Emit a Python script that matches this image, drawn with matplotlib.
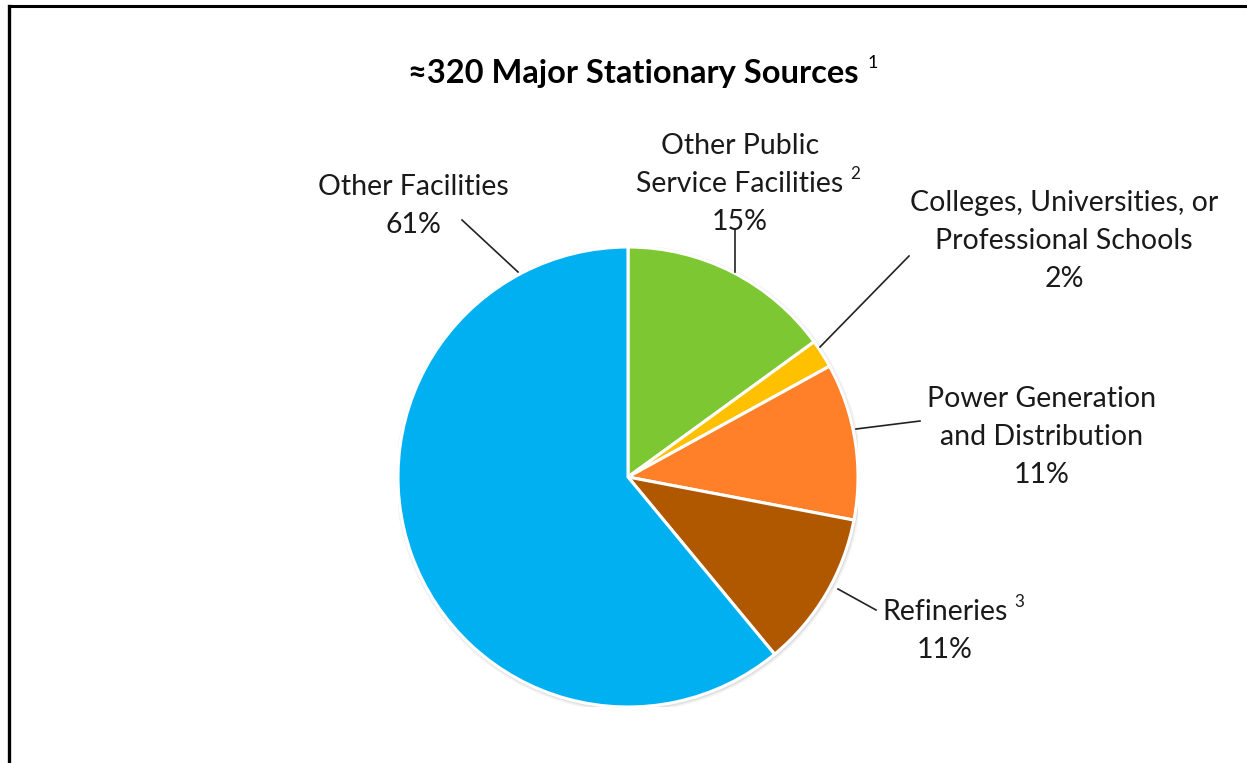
import matplotlib
matplotlib.use("Agg")
import matplotlib.pyplot as plt
from matplotlib.lines import Line2D

# slice data, clockwise from 12 o'clock
categories = ["Other Public\nService Facilities", "Colleges, Universities, or\nProfessional Schools",
              "Power Generation\nand Distribution", "Refineries", "Other Facilities"]
shares = [15, 2, 11, 11, 61]
footnotes = ["2", "", "", "3", ""]
colors = ["#7DC832", "#FFC000", "#FF8029", "#B05800", "#00B0F0"]
title = "≈320 Major Stationary Sources"

W, H = 1247, 763
CX, CY, R = 628, 477, 230  # pie centre / radius in pixels

fig = plt.figure(figsize=(W / 100, H / 100), dpi=100)
fig.patch.set_facecolor("white")

ax = fig.add_axes([(CX - R) / W, (H - CY - R) / H, 2 * R / W, 2 * R / H])
ax.axis("off")

# faint shadow behind the pie
for k, a in [(1.014, 0.05), (1.007, 0.07)]:
    ax.add_patch(plt.Circle((0.004, -0.006), k, color="black", alpha=a, lw=0, zorder=0))

ax.pie(shares, colors=colors, startangle=90, counterclock=False, radius=1,
       wedgeprops=dict(edgecolor="white", linewidth=2.2), normalize=True)
ax.set_xlim(-1, 1)
ax.set_ylim(-1, 1)


def d(px, py):
    return (px - CX) / R, (CY - py) / R


FONT = "Lato"
fs = 20.5

# label placement in pixels: (centre x, first line y)
label_pos = [(740, 146), (1064, 203), (1042, 399), (945, 612), (413, 187)]
leaders = [((735, 229), (735, 272)), ((909, 256), (820, 347)), ((920, 421), (856, 429)),
           ((876, 610), (838, 589)), ((462, 220), (518, 272))]
line_h = 38

fig.canvas.draw()
rend = fig.canvas.get_renderer()

for cat, val, fn, (lx, ly) in zip(categories, shares, footnotes, label_pos):
    lines = cat.split("\n") + [f"{val}%"]
    for i, ln in enumerate(lines):
        t = ax.text(*d(lx, ly + i * line_h), ln, ha="center", va="center",
                    fontsize=fs, family=FONT, color="#1a1a1a", clip_on=False)
        if fn and i == len(lines) - 2:
            bb = t.get_window_extent(renderer=rend)
            ax.text(*d(bb.x1 + 12, ly + i * line_h - 10), fn, ha="center",
                    va="center", fontsize=fs * 0.6, family=FONT, color="#1a1a1a", clip_on=False)

for (p0, p1) in leaders:
    x0, y0 = d(*p0)
    x1, y1 = d(*p1)
    ax.add_line(Line2D([x0, x1], [y0, y1], color="#222222", lw=1.2, clip_on=False))

tt = fig.text(633 / W, 1 - 74 / H, title, ha="center", va="center", fontsize=23.5,
              fontweight="bold", family=FONT, color="black")
bb = tt.get_window_extent(renderer=rend)
fig.text((bb.x1 + 14) / W, 1 - 63 / H, "1", ha="center", va="center", fontsize=13,
         family=FONT, color="black")

# frame lines (top and left only visible)
fig.add_artist(Line2D([9 / W, 1], [1 - 6 / H, 1 - 6 / H], transform=fig.transFigure,
                      color="black", lw=2.2))
fig.add_artist(Line2D([9 / W, 9 / W], [0, 1 - 6 / H], transform=fig.transFigure,
                      color="black", lw=2.4))

fig.savefig("out.png", dpi=100)
